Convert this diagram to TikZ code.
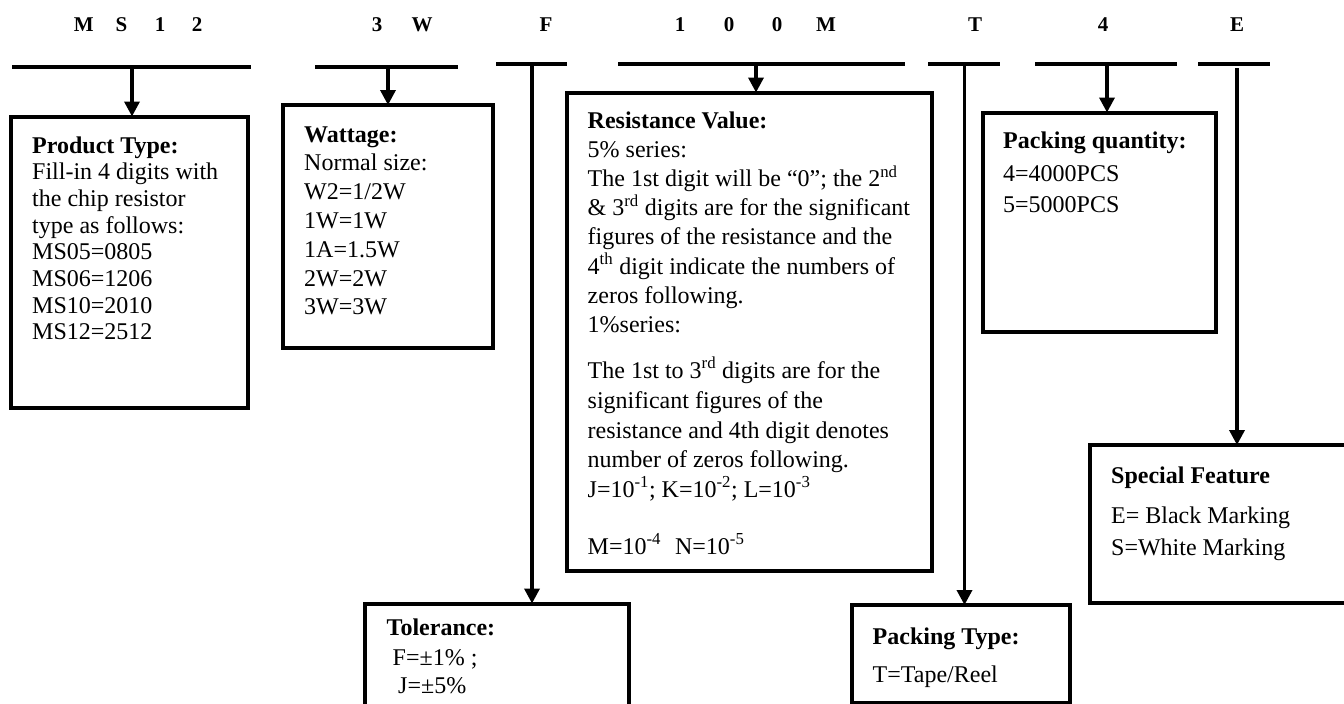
\documentclass[tikz,border=0pt]{standalone}
\usepackage{fontspec}
\setmainfont{Liberation Serif}
\usetikzlibrary{arrows.meta}
\begin{document}
\begin{tikzpicture}[x=1pt,y=-1pt,
  bar/.style={line width=4pt},
  conn/.style={line width=3.5pt,-{Triangle[length=15pt,width=15pt]}},
  box/.style={draw,line width=4pt,inner sep=0pt,outer sep=0pt,anchor=north west},
  lab/.style={font=\fontsize{21}{24}\selectfont\bfseries,anchor=base,inner sep=0pt},
  txt/.style={font=\fontsize{24}{28}\selectfont,anchor=base west,inner sep=0pt},
  hd/.style={font=\fontsize{24}{28}\selectfont\bfseries,anchor=base west,inner sep=0pt}]
\useasboundingbox (0,0) rectangle (1344,704);
\fill[white] (0,0) rectangle (1344,704);
\clip (0,0) rectangle (1344,704);

% top code letters
\node[lab] (cM1) at (83.7,31) {M};
\node[lab] (cS)  at (121.5,31) {S};
\node[lab] (c1a) at (160,31) {1};
\node[lab] (c2)  at (197,31) {2};
\node[lab] (c3)  at (377,31) {3};
\node[lab] (cW)  at (422,31) {W};
\node[lab] (cF)  at (546,31) {F};
\node[lab] (c1b) at (680,31) {1};
\node[lab] (c0a) at (729,31) {0};
\node[lab] (c0b) at (777,31) {0};
\node[lab] (cM2) at (826,31) {M};
\node[lab] (cT)  at (975,31) {T};
\node[lab] (c4)  at (1103,31) {4};
\node[lab] (cE)  at (1237,31) {E};

% bars
\coordinate (s1a) at (12,66.5);   \coordinate (s1b) at (251,66.5);
\coordinate (s2a) at (315,66.5);  \coordinate (s2b) at (458,66.5);
\coordinate (s3a) at (496,63.5);  \coordinate (s3b) at (567,63.5);
\coordinate (s4a) at (618,63.5);  \coordinate (s4b) at (905,63.5);
\coordinate (s5a) at (928,63.5);  \coordinate (s5b) at (1000,63.5);
\coordinate (s6a) at (1035,63.5); \coordinate (s6b) at (1177,63.5);
\coordinate (s7a) at (1198,64);   \coordinate (s7b) at (1270,64);
\draw[bar] (s1a) -- (s1b);
\draw[bar] (s2a) -- (s2b);
\draw[bar] (s3a) -- (s3b);
\draw[bar] (s4a) -- (s4b);
\draw[bar] (s5a) -- (s5b);
\draw[bar] (s6a) -- (s6b);
\draw[bar] (s7a) -- (s7b);

% boxes
\node[box,minimum width=237,minimum height=291.5] (b1) at (11,116.5) {};
\node[box,minimum width=210,minimum height=243] (b2) at (283,105) {};
\node[box,minimum width=365,minimum height=478] (b3) at (567,92.5) {};
\node[box,minimum width=264,minimum height=126.5] (b4) at (365,603.5) {};
\node[box,minimum width=218,minimum height=98] (b5) at (852,605) {};
\node[box,minimum width=233,minimum height=219] (b6) at (983,112.5) {};
\node[box,minimum width=280,minimum height=157.5] (b7) at (1090,445) {};

% connectors
\coordinate (t1) at (132,66.5);
\coordinate (t2) at (388,66.5);
\coordinate (t3) at (532,63.5);
\coordinate (t4) at (756,63.5);
\coordinate (t5) at (964.5,63.5);
\coordinate (t6) at (1107,63.5);
\coordinate (t7) at (1237,68);
\draw[conn] (t1) -- (t1 |- b1.north);
\draw[conn] (t2) -- (t2 |- b2.north);
\draw[conn] (t3) -- (t3 |- b4.north);
\draw[conn] (t4) -- (t4 |- b3.north);
\draw[conn] (t5) -- (t5 |- b5.north);
\draw[conn] (t6) -- (t6 |- b6.north);
\draw[conn] (t7) -- (t7 |- b7.north);

% Product type
\node[hd]  (p1) at (32,153) {Product Type:};
\node[txt] (p2) at (32,179.7) {Fill-in 4 digits with};
\node[txt] (p3) at (32,206.4) {the chip resistor};
\node[txt] (p4) at (32,233.1) {type as follows:};
\node[txt] (p5) at (32,259.8) {MS05=0805};
\node[txt] (p6) at (32,286.5) {MS06=1206};
\node[txt] (p7) at (32,313.2) {MS10=2010};
\node[txt] (p8) at (32,339.9) {MS12=2512};

% Wattage
\node[hd]  (w1) at (304,142) {Wattage:};
\node[txt] (w2) at (304,170.8) {Normal size:};
\node[txt] (w3) at (304,199.6) {W2=1/2W};
\node[txt] (w4) at (304,228.4) {1W=1W};
\node[txt] (w5) at (304,257.2) {1A=1.5W};
\node[txt] (w6) at (304,286) {2W=2W};
\node[txt] (w7) at (304,314.8) {3W=3W};

% Resistance value
\node[hd]  (r1)  at (587.5,128) {Resistance Value:};
\node[txt] (r2)  at (587.5,157.2) {5\% series:};
\node[txt] (r3)  at (587.5,186.4) {The 1st digit will be “0”; the 2\textsuperscript{nd}};
\node[txt] (r4)  at (587.5,215.6) {\& 3\textsuperscript{rd} digits are for the significant};
\node[txt] (r5)  at (587.5,244.8) {figures of the resistance and the};
\node[txt] (r6)  at (587.5,274) {4\textsuperscript{th} digit indicate the numbers of};
\node[txt] (r7)  at (587.5,303.2) {zeros following.};
\node[txt] (r8)  at (587.5,332.4) {1\%series:};
\node[txt] (r9)  at (587.5,378) {The 1st to 3\textsuperscript{rd} digits are for the};
\node[txt] (r10) at (587.5,408) {significant figures of the};
\node[txt] (r11) at (587.5,438) {resistance and 4th digit denotes};
\node[txt] (r12) at (587.5,467.5) {number of zeros following.};
\node[txt] (r13) at (587.5,497) {J=10\textsuperscript{-1}; K=10\textsuperscript{-2}; L=10\textsuperscript{-3}};
\node[txt] (r14) at (587.5,554) {M=10\textsuperscript{-4}\hspace{14pt}N=10\textsuperscript{-5}};

% Tolerance
\node[hd]  (o1) at (386.5,635) {Tolerance:};
\node[txt] (o2) at (392.5,665) {F=±1\% ;};
\node[txt] (o3) at (398,693) {J=±5\%};

% Packing type
\node[hd]  (k1) at (872.5,644) {Packing Type:};
\node[txt] (k2) at (872.5,682.5) {T=Tape/Reel};

% Packing quantity
\node[hd]  (q1) at (1003,148) {Packing quantity:};
\node[txt] (q2) at (1003,181.5) {4=4000PCS};
\node[txt] (q3) at (1003,212.5) {5=5000PCS};

% Special feature
\node[hd]  (f1) at (1111,483) {Special Feature};
\node[txt] (f2) at (1111,523) {E= Black Marking};
\node[txt] (f3) at (1111,555) {S=White Marking};
\end{tikzpicture}
\end{document}
